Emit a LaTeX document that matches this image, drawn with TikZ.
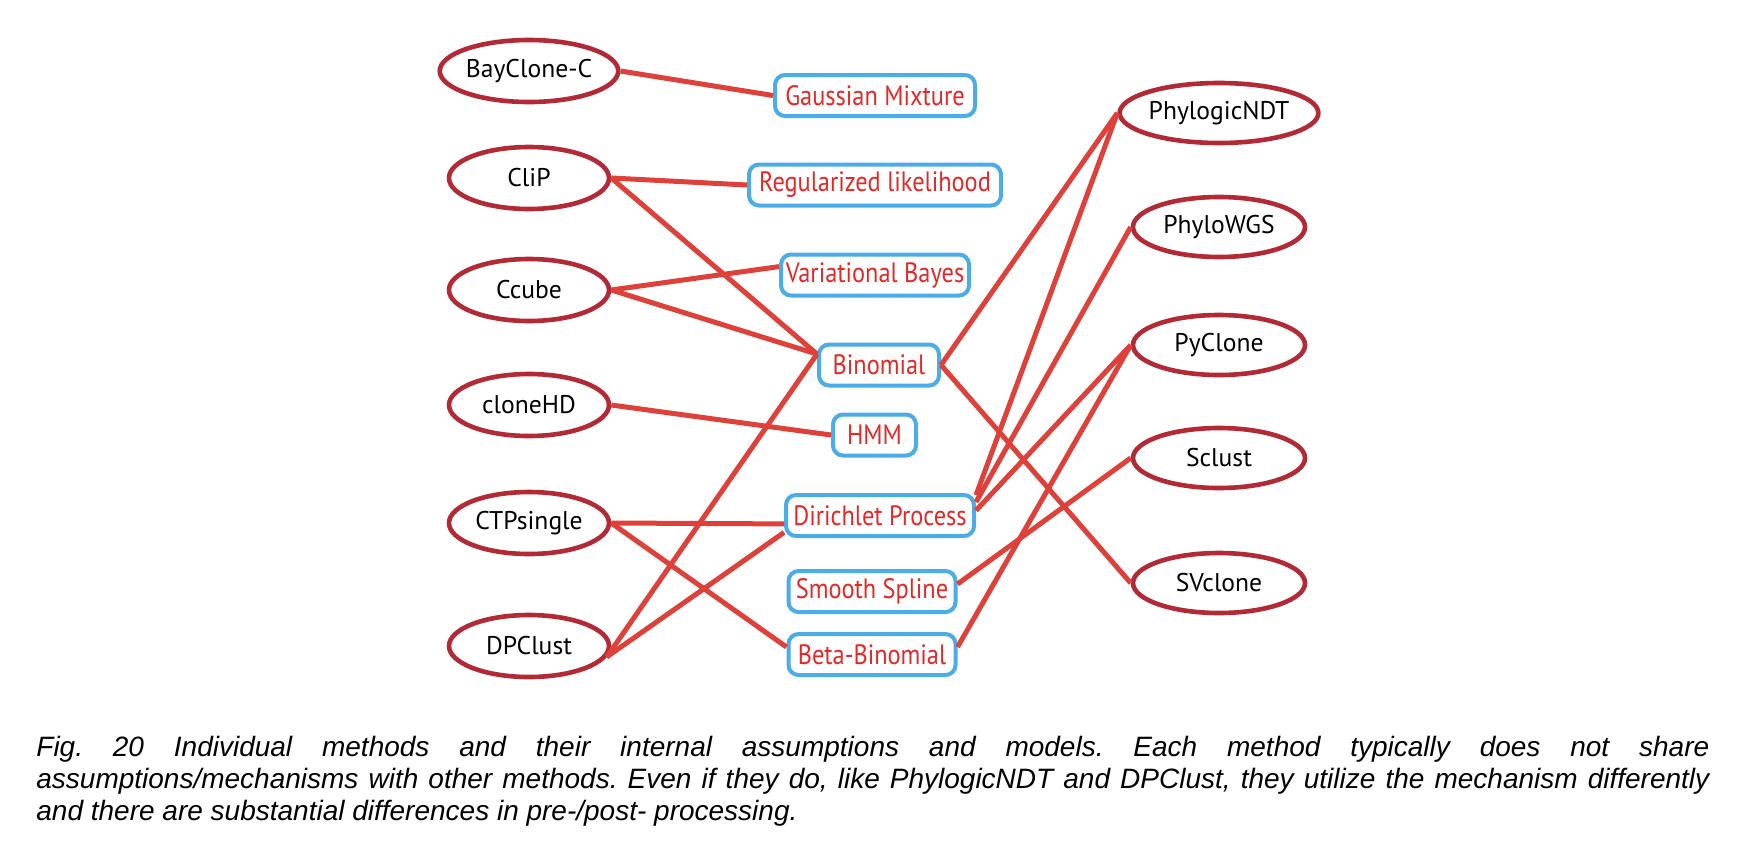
\documentclass[tikz,border=0pt]{standalone}
\usepackage{fontspec}
\usetikzlibrary{shapes.geometric}
\newfontfamily\lblfont{PT Sans}
\newfontfamily\boxfont[FakeStretch=0.87]{PT Sans}
\newfontfamily\capfont{Liberation Sans}
\definecolor{ellred}{RGB}{178,42,54}
\definecolor{linered}{RGB}{222,64,58}
\definecolor{boxblue}{RGB}{76,172,230}
\definecolor{boxtext}{RGB}{228,40,40}
\begin{document}
\begin{tikzpicture}[x=0.5pt,y=-0.5pt,
  method/.style={ellipse,draw=ellred,line width=2.3pt,fill=white,inner sep=0pt,
    minimum width=80pt,minimum height=31pt,font=\lblfont\fontsize{12.8}{15}\selectfont,text=black},
  rmethod/.style={method,minimum width=86pt,minimum height=30pt},
  model/.style={rectangle,rounded corners=5pt,draw=boxblue,line width=2pt,fill=white,
    inner sep=0pt,minimum height=20.5pt,font=\boxfont\fontsize{14}{15}\selectfont,text=boxtext},
  link/.style={draw=linered,line width=2.5pt}]
\useasboundingbox (0,0) rectangle (1744,842);
% left methods
\node[method] (bc) at (529,71) {BayClone-C};
\node[method] (clip) at (529,178) {CliP};
\node[method] (cc) at (529,290) {Ccube};
\node[method] (chd) at (529,405) {cloneHD};
\node[method] (ctp) at (529,523) {CTPsingle};
\node[method] (dpc) at (529,646) {DPClust};
% models
\node[model,minimum width=100pt] (gm) at (875,95.5) {Gaussian Mixture};
\node[model,minimum width=126pt] (rl) at (875,185) {Regularized likelihood};
\node[model,minimum width=94pt] (vb) at (875,275) {Variational Bayes};
\node[model,minimum width=60pt] (bin) at (879,365) {Binomial};
\node[model,minimum width=41.5pt] (hmm) at (874.5,435) {HMM};
\node[model,minimum width=94pt] (dir) at (880,515.5) {Dirichlet Process};
\node[model,minimum width=83.5pt] (ss) at (872,591.5) {Smooth Spline};
\node[model,minimum width=83.5pt] (bb) at (872,654.5) {Beta-Binomial};
% right methods
\node[rmethod] (pn) at (1219,113) {PhylogicNDT};
\node[rmethod] (pw) at (1219,227) {PhyloWGS};
\node[rmethod] (py) at (1219,345) {PyClone};
\node[rmethod] (sc) at (1219,458) {Sclust};
\node[rmethod] (sv) at (1219,583) {SVclone};
% links
\draw[link] (bc.east) -- (gm.west);
\draw[link] (clip.east) -- (rl.west);
\draw[link] (clip.east) -- (bin.170);
\draw[link] (cc.east) -- (vb.175);
\draw[link] (cc.east) -- (bin.170);
\draw[link] (chd.east) -- (hmm.west);
\draw[link] (ctp.east) -- (dir.185);
\draw[link] (ctp.east) -- (bb.175);
\draw[link] (dpc.-8) -- (bin.170);
\draw[link] (dpc.-8) -- (dir.190);
\draw[link] (bin.east) -- (pn.west);
\draw[link] (bin.east) -- (sv.west);
\draw[link] (dir.12) -- (pn.west);
\draw[link] (dir.8) -- (pw.west);
\draw[link] (dir.3) -- (py.west);
\draw[link] (ss.5) -- (sc.west);
\draw[link] (bb.5) -- (py.west);
% caption
\node[anchor=base west,inner sep=0pt,text width=836.5pt,align=justify,
  font=\capfont\itshape\fontsize{14}{16}\selectfont] (cap) at (36,756)
  {\frenchspacing\hyphenpenalty=10000\exhyphenpenalty=10000 Fig. 20 Individual methods and their internal assumptions and models. Each method typically does not share\linebreak
  assumptions/mechanisms with other methods. Even if they do, like PhylogicNDT and DPClust, they utilize the mechanism differently\linebreak
  and there are substantial differences in pre-/post- processing.\par};
\end{tikzpicture}
\end{document}
